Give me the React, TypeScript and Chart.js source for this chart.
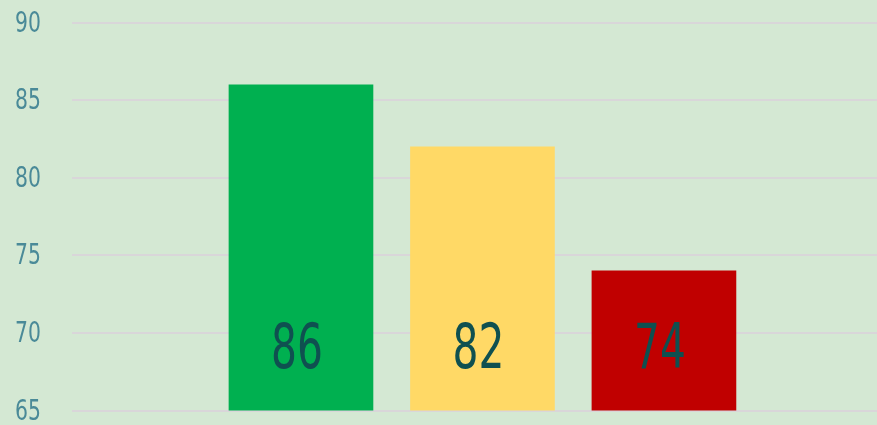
import React, { useEffect, useRef } from "react";
import { Chart, registerables } from "chart.js";

Chart.register(...registerables);

const categories = [1, 2, 3];
const values = [86, 82, 74];
const barColors = ["#00B050", "#FFD966", "#C00000"];
const yTicks = [65, 70, 75, 80, 85, 90];

const FONT = "'DejaVu Sans Condensed', 'DejaVu Sans', sans-serif";

const textPlugin = {
  id: "condensedTexts",
  afterDatasetsDraw(chart: any) {
    const { ctx, chartArea } = chart;
    const yScale = chart.scales.y;
    ctx.save();
    // y tick labels
    ctx.font = `29px ${FONT}`;
    ctx.fillStyle = "#4A8A98";
    ctx.textAlign = "right";
    ctx.textBaseline = "middle";
    yTicks.forEach((v) => {
      const py = yScale.getPixelForValue(v);
      ctx.save();
      ctx.translate(41, py + 1.5);
      ctx.scale(0.78, 1);
      ctx.fillText(String(v), 0, 0);
      ctx.restore();
    });
    // value labels
    const meta = chart.getDatasetMeta(0);
    ctx.font = `62px ${FONT}`;
    ctx.fillStyle = "#0F5050";
    ctx.textAlign = "center";
    ctx.textBaseline = "alphabetic";
    meta.data.forEach((bar: any, i: number) => {
      ctx.save();
      ctx.translate(bar.x - 4, chartArea.bottom - 43);
      ctx.scale(0.73, 1);
      ctx.fillText(String(values[i]), 0, 0);
      ctx.restore();
    });
    ctx.restore();
  },
};

export default function App() {
  const ref = useRef<HTMLCanvasElement>(null);
  useEffect(() => {
    const chart = new Chart(ref.current!, {
      type: "bar",
      data: {
        datasets: [
          {
            data: categories.map((c, i) => ({ x: c, y: values[i] })),
            backgroundColor: barColors,
            borderWidth: 0,
            barThickness: 144,
          },
        ],
      },
      options: {
        animation: false,
        responsive: false,
        maintainAspectRatio: false,
        layout: { padding: { top: 22.7, bottom: 14.5, left: 0, right: 0 } },
        plugins: { legend: { display: false }, tooltip: { enabled: false } },
        scales: {
          x: {
            type: "linear",
            display: false,
            offset: false,
            min: -0.2617,
            max: 4.174,
          },
          y: {
            min: yTicks[0],
            max: yTicks[yTicks.length - 1],
            afterBuildTicks: (s: any) => {
              s.ticks = yTicks.map((v) => ({ value: v }));
            },
            afterFit: (s: any) => {
              s.width = 72;
              s.paddingTop = 0;
              s.paddingBottom = 0;
            },
            border: { display: false },
            grid: { color: "#D9D6D9", lineWidth: 2, drawTicks: false },
            ticks: { display: false },
          },
        },
      },
      plugins: [textPlugin],
    });
    return () => chart.destroy();
  }, []);
  return (
    <div style={{ position: "fixed", left: 0, top: 0, width: 877, height: 425, background: "#D4E8D3" }}>
      <canvas ref={ref} width={877} height={425} style={{ display: "block" }} />
    </div>
  );
}
